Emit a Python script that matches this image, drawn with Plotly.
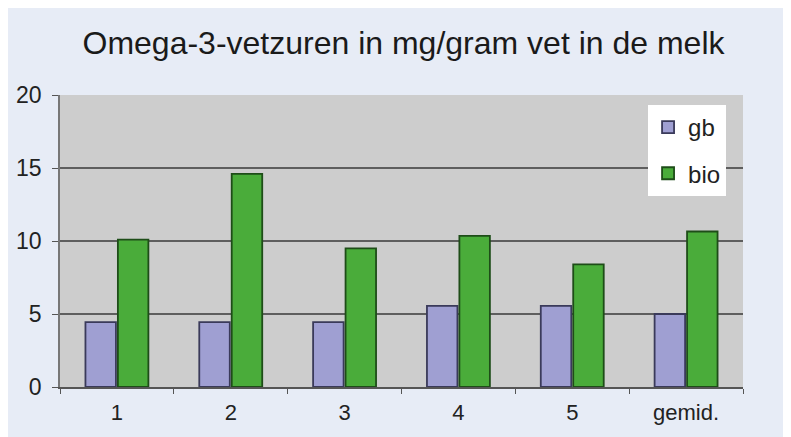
import plotly.graph_objects as go

categories = ["1", "2", "3", "4", "5", "gemid."]
gb = [4.45, 4.45, 4.45, 5.55, 5.55, 5.0]
bio = [10.1, 14.6, 9.5, 10.35, 8.4, 10.65]

fig = go.Figure()
fig.add_trace(go.Bar(name="gb", x=categories, y=gb, legendgroup="a",
                     marker=dict(color="#9f9fd2", line=dict(color="#3a3a5a", width=1.8))))
fig.add_trace(go.Bar(name="bio", x=categories, y=bio, legendgroup="b",
                     marker=dict(color="#4aac3a", line=dict(color="#1e4d18", width=1.8))))

fig.update_layout(
    width=791, height=437,
    margin=dict(l=52, r=56, t=87, b=58),
    paper_bgcolor="#e7ecf6",
    plot_bgcolor="#cdcdcd",
    barmode="group",
    bargap=0.43,
    bargroupgap=0.06,
    title=dict(text="Omega-3-vetzuren in mg/gram vet in de melk",
               x=0.5, xanchor="center", y=0.92, yanchor="middle",
               font=dict(family="Liberation Sans, Arial", size=32, color="#1a1a1a")),
    font=dict(family="Liberation Sans, Arial", size=22, color="#222222"),
    legend=dict(x=0.861, y=0.966, xanchor="left", yanchor="top",
                bgcolor="#ffffff", font=dict(size=24, color="#222222"),
                traceorder="grouped", tracegroupgap=12),
    showlegend=True,
)
fig.update_xaxes(tickson="boundaries", ticks="outside", ticklen=5, tickcolor="#555555",
                 showline=True, linecolor="#555555", linewidth=1.5, showgrid=False,
                 tickfont=dict(size=22), ticklabelstandoff=5, automargin=False)
fig.update_yaxes(range=[0, 20], dtick=5, ticks="outside", ticklen=6, tickcolor="#555555",
                 showline=True, linecolor="#777777", linewidth=1.5,
                 showgrid=True, gridcolor="#5e5e5e", gridwidth=1.8, zeroline=False,
                 tickfont=dict(size=23), ticklabelstandoff=6, automargin=False)

fig.write_html("out.html")
